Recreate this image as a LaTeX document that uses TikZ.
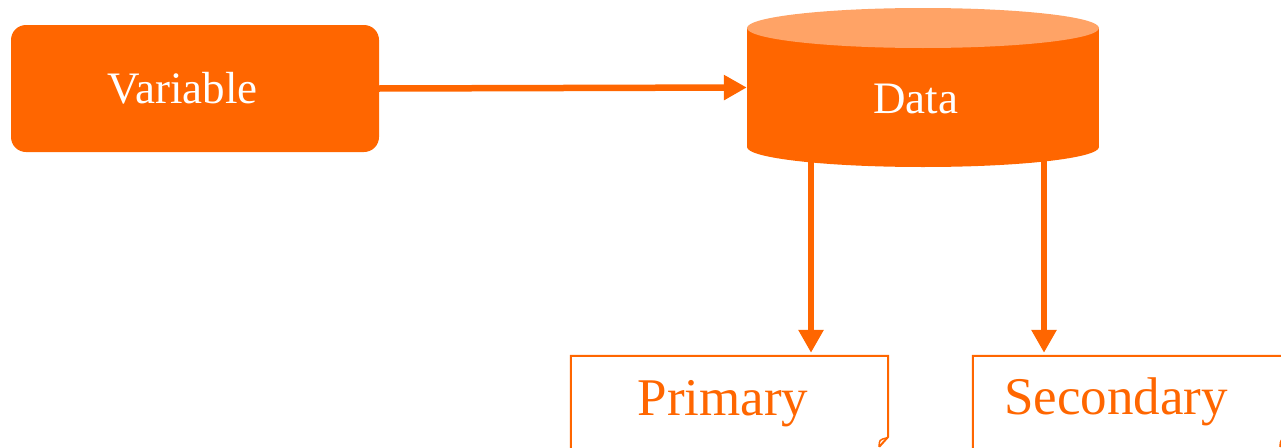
\documentclass[tikz,border=0pt]{standalone}
\usepackage{fontspec}
\setmainfont{Liberation Serif}
\usetikzlibrary{arrows.meta,calc}
\definecolor{orng}{HTML}{FF6600}
\definecolor{lightorng}{HTML}{FFA366}

\begin{document}
\begin{tikzpicture}[x=1pt,y=-1pt,
  flow/.style={draw=orng, line width=6.5pt, -{Triangle[length=23pt,width=24pt]}},
  solidbox/.style={rectangle, rounded corners=15pt, fill=orng, inner sep=0pt},
  frame/.style={rectangle, inner sep=0pt},
  outline/.style={draw=orng, line width=2pt, line join=miter},
  whitetext/.style={font=\fontsize{45}{54}\selectfont, text=white, anchor=base, inner sep=0pt},
  orangetext/.style={font=\fontsize{53}{63}\selectfont, text=orng, anchor=base, inner sep=0pt}]
\useasboundingbox (0,0) rectangle (1281,447);
\clip (0,0) rectangle (1281,447);

% boxes
\node[solidbox, minimum width=368pt, minimum height=127pt] (var) at (195,88.5) {};
\node[whitetext] (varlabel) at (182.5,103) {Variable};

\node[frame, minimum width=352pt, minimum height=159pt] (data) at (923,87.5) {};
\node[frame, minimum width=317pt, minimum height=100pt] (prim) at (729.5,406) {};
\node[frame, minimum width=316pt, minimum height=100pt] (sec) at (1131,406) {};

% drop points under the cylinder
\coordinate (dropA) at (811,0);
\coordinate (dropB) at (1044,0);

% connectors (they start hidden behind the cylinder)
\draw[flow] ([yshift=10pt]data.south -| dropA) -- ([yshift=3pt]prim.north -| dropA);
\draw[flow] ([yshift=10pt]data.south -| dropB) -- ([yshift=3pt]sec.north -| dropB);
\draw[flow] (var.east) -- (data.west);

% cylinder
\fill[orng] (747,28) rectangle (1099,147);
\fill[orng] (923,147) ellipse [x radius=176, y radius=20];
\fill[lightorng] (923,28) ellipse [x radius=176, y radius=20];
\node[whitetext] (datalabel) at (915.5,113) {Data};

% document outlines with curled lower corner
\draw[outline] (prim.south west) -- (prim.north west) -- (prim.north east)
  -- ($(prim.north east)+(0,81)$) -- ($(prim.north east)+(-9,91)$);
\draw[outline, line width=1.5pt] ($(prim.north east)+(-9,91)$) .. controls ($(prim.north east)+(-9,84)$) .. ($(prim.north east)+(-1,82)$);
\node[orangetext] (primlabel) at (723,415) {Primary};

\draw[outline] (sec.south west) -- (sec.north west) -- (sec.north east)
  -- ($(sec.north east)+(0,81)$) -- ($(sec.north east)+(-9,91)$);
\draw[outline, line width=1.5pt] ($(sec.north east)+(-9,91)$) .. controls ($(sec.north east)+(-9,84)$) .. ($(sec.north east)+(-1,82)$);
\node[orangetext] (seclabel) at (1116,414) {Secondary};
\end{tikzpicture}
\end{document}
